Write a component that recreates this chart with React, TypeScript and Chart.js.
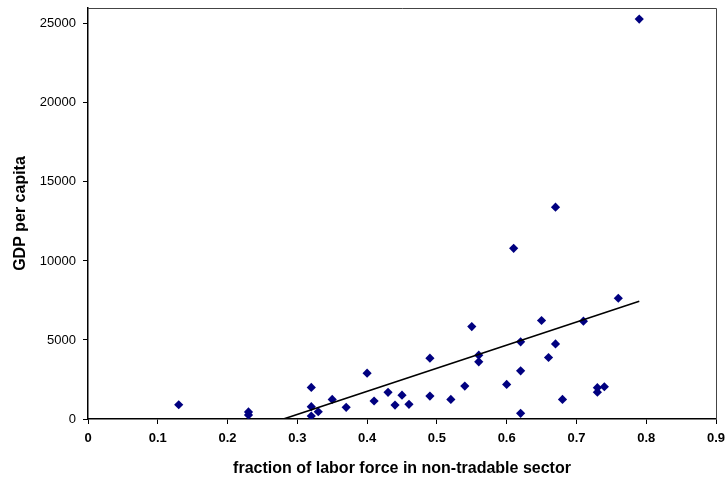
import React, { useEffect, useRef } from "react";
import { Chart, registerables } from "chart.js";

Chart.register(...registerables);

// Share of the labor force employed in the non-tradable sector, by country
const laborShare = [
  0.13, 0.23, 0.23, 0.32, 0.32, 0.32, 0.33, 0.35, 0.37, 0.40, 0.41, 0.43,
  0.44, 0.45, 0.46, 0.49, 0.49, 0.52, 0.54, 0.55, 0.56, 0.56, 0.60, 0.61,
  0.62, 0.62, 0.62, 0.65, 0.66, 0.67, 0.67, 0.68, 0.71, 0.73, 0.73, 0.74,
  0.76, 0.79,
];

// GDP per capita for the same countries
const gdpPerCapita = [
  900, 450, 250, 2000, 780, 190, 460, 1240, 740, 2900, 1140, 1690,
  880, 1510, 930, 3850, 1450, 1240, 2080, 5850, 4040, 3620, 2190, 10800,
  4880, 3050, 360, 6230, 3890, 4750, 13400, 1240, 6190, 1980, 1700, 2040,
  7640, 25300,
];

// Linear trend: GDP per capita = slope * share + intercept
const trendSlope = 14600;
const trendIntercept = -4090;
const trendRange = [0.13, 0.79];

const xTicks = [0, 0.1, 0.2, 0.3, 0.4, 0.5, 0.6, 0.7, 0.8, 0.9];
const yTicks = [0, 5000, 10000, 15000, 20000, 25000];

const plotFrame = {
  id: "plotFrame",
  afterDraw(chart: any) {
    const { ctx, chartArea } = chart;
    ctx.save();
    ctx.strokeStyle = "#444";
    ctx.lineWidth = 1;
    ctx.beginPath();
    ctx.moveTo(chartArea.left, chartArea.top + 0.5);
    ctx.lineTo(chartArea.right + 0.5, chartArea.top + 0.5);
    ctx.lineTo(chartArea.right + 0.5, chartArea.bottom);
    ctx.stroke();
    ctx.restore();
  },
};

export default function App() {
  const canvasRef = useRef<HTMLCanvasElement | null>(null);

  useEffect(() => {
    if (!canvasRef.current) return;
    const points = laborShare.map((x, i) => ({ x, y: gdpPerCapita[i] }));
    const trend = trendRange.map((x) => ({ x, y: trendSlope * x + trendIntercept }));

    const chart = new Chart(canvasRef.current, {
      type: "scatter",
      data: {
        datasets: [
          {
            type: "line",
            data: trend,
            borderColor: "#000",
            borderWidth: 1.6,
            pointRadius: 0,
            fill: false,
            showLine: true,
          } as any,
          {
            data: points,
            pointStyle: "rectRot",
            pointRadius: 4.6,
            backgroundColor: "#000080",
            borderColor: "#000080",
            borderWidth: 0,
          },
        ],
      },
      options: {
        animation: false,
        responsive: false,
        layout: { padding: { top: 8, right: 10, left: 0, bottom: 0 } },
        plugins: {
          legend: { display: false },
          tooltip: { enabled: false },
        },
        scales: {
          x: {
            type: "linear",
            min: 0,
            max: 0.9,
            afterBuildTicks: (scale: any) => {
              scale.ticks = xTicks.map((value) => ({ value }));
            },
            afterFit: (scale: any) => {
              scale.height = 61;
              scale.paddingLeft = 0;
              scale.paddingRight = 0;
            },
            ticks: {
              color: "#000",
              font: { family: "Liberation Sans, Arial, sans-serif", size: 13, weight: "bold" },
              padding: 7,
              maxRotation: 0,
              callback: (v: any) => String(Number(Number(v).toFixed(1))),
            },
            grid: {
              drawOnChartArea: false,
              drawTicks: true,
              tickLength: 5,
              color: "#000",
            },
            border: { color: "#000", width: 1.5 },
            title: {
              display: true,
              text: "fraction of labor force in non-tradable sector",
              color: "#000",
              font: { family: "Liberation Sans, Arial, sans-serif", size: 16, weight: "bold" },
              padding: { top: 8, bottom: 2 },
            },
          },
          y: {
            type: "linear",
            min: 0,
            max: 26000,
            afterBuildTicks: (scale: any) => {
              scale.ticks = yTicks.map((value) => ({ value }));
            },
            afterFit: (scale: any) => {
              scale.width = 88;
              scale.paddingTop = 0;
              scale.paddingBottom = 0;
            },
            ticks: {
              color: "#000",
              font: { family: "Liberation Sans, Arial, sans-serif", size: 13 },
              padding: 7,
              callback: (v: any) => String(v),
            },
            grid: {
              drawOnChartArea: false,
              drawTicks: true,
              tickLength: 5,
              color: "#000",
            },
            border: { color: "#000", width: 1.5 },
            title: {
              display: true,
              text: "GDP per capita",
              color: "#000",
              font: { family: "Liberation Sans, Arial, sans-serif", size: 16, weight: "bold" },
              padding: { top: 11, bottom: 4 },
            },
          },
        },
      },
      plugins: [plotFrame],
    });
    return () => chart.destroy();
  }, []);

  return (
    <div style={{ position: "fixed", left: 0, top: 0, width: 726, height: 480, background: "#fff" }}>
      <canvas ref={canvasRef} width={726} height={480} style={{ width: 726, height: 480 }} />
    </div>
  );
}
